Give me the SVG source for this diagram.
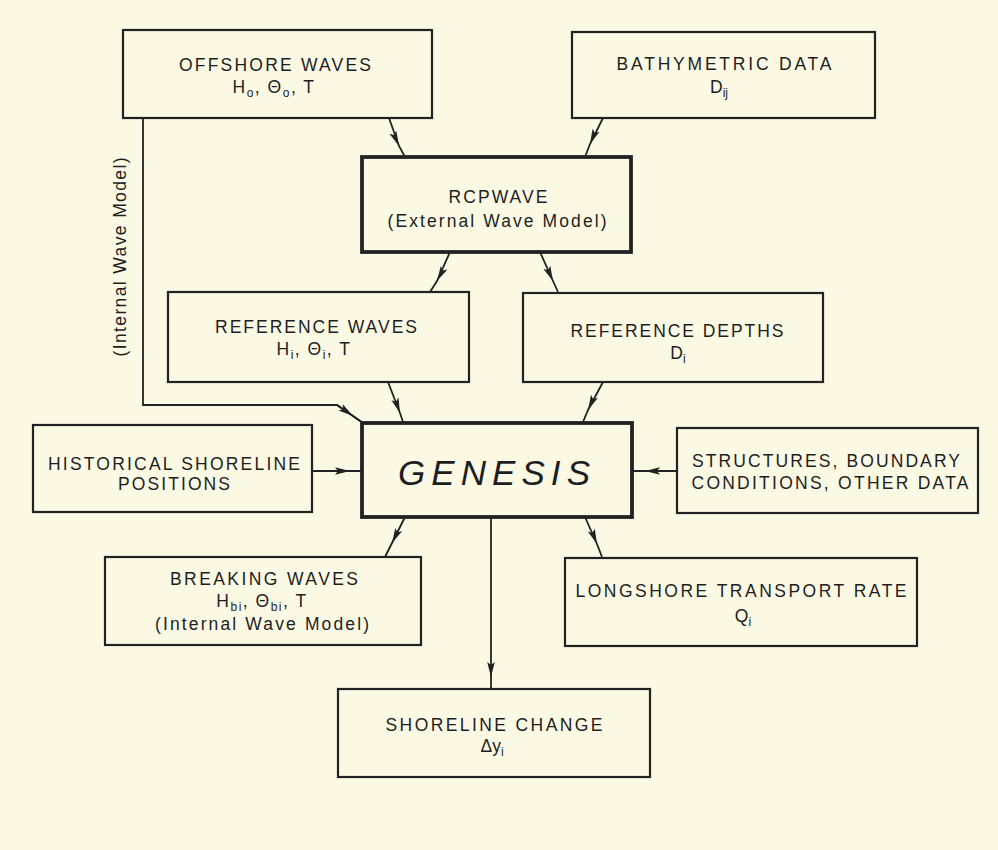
<svg xmlns="http://www.w3.org/2000/svg" width="998" height="850" viewBox="0 0 998 850">
  <style>
    .box { fill: none; stroke: #222; stroke-width: 2.2; }
    .thick { fill: none; stroke: #222; stroke-width: 3.8; }
    .lbl { font-family: "Liberation Sans", Arial, sans-serif; font-size: 17.5px; fill: #1e1e1e; text-anchor: middle; }
    .sym { letter-spacing: 1.5px; }
    .sub { font-size: 12px; }
    .big { font-family: "Liberation Sans", Arial, sans-serif; font-size: 35px; font-style: italic; fill: #1e1e1e; text-anchor: middle; }
    .wire { fill: none; stroke: #222; stroke-width: 1.8; marker-mid: url(#head); }
  </style>
  <defs>
    <marker id="head" markerUnits="userSpaceOnUse" markerWidth="20" markerHeight="12" viewBox="-16 -6 18 12" refX="0" refY="0" orient="auto">
      <path d="M0,0 L-15,-3.8 L-12,0 L-15,3.8 Z" fill="#222"/>
    </marker>
  </defs>

  <rect width="998" height="850" fill="#fbf9e4"/>

  <!-- connectors -->
  <g id="connectors">
    <path class="wire" d="M389,118 L399,146 L405,157"/>
    <path class="wire" d="M603,118 L590,144 L585,157"/>
    <path class="wire" d="M450,252 L437,281 L430,292"/>
    <path class="wire" d="M540,252 L553,281 L558,292"/>
    <path class="wire" d="M143,118 L143,405 L337,405 L353,416 L363,423" style="marker-mid:none"/>
    <path class="wire" d="M337,405 L353,416 L363,423"/>
    <path class="wire" d="M388,382 L400,413 L403,422"/>
    <path class="wire" d="M603,382 L588,410 L583,422"/>
    <path class="wire" d="M312,471 L350,471 L362,471"/>
    <path class="wire" d="M677,471 L645,471 L632,471"/>
    <path class="wire" d="M405,517 L392,543 L385,557"/>
    <path class="wire" d="M585,517 L597,544 L602,557"/>
    <path class="wire" d="M491,517 L491,677 L491,689"/>
    <text class="lbl" transform="translate(126,257) rotate(-90)" textLength="199" lengthAdjust="spacing">(Internal Wave Model)</text>
  </g>

  <g id="offshore">
    <rect class="box" x="123" y="30" width="309" height="88"/>
    <text class="lbl" x="275" y="71" textLength="192" lengthAdjust="spacing">OFFSHORE WAVES</text>
    <text class="lbl sym" x="274" y="93">H<tspan class="sub" dy="4">o</tspan><tspan dy="-4">, Θ</tspan><tspan class="sub" dy="4">o</tspan><tspan dy="-4">, T</tspan></text>
  </g>

  <g id="bathymetric">
    <rect class="box" x="572" y="32" width="303" height="86"/>
    <text class="lbl" x="724" y="70" textLength="215" lengthAdjust="spacing">BATHYMETRIC DATA</text>
    <text class="lbl" x="719" y="93">D<tspan class="sub" dy="4">ij</tspan></text>
  </g>

  <g id="rcpwave">
    <rect class="thick" x="362" y="157" width="269" height="95"/>
    <text class="lbl" x="498" y="203" textLength="99" lengthAdjust="spacing">RCPWAVE</text>
    <text class="lbl" x="497" y="227" textLength="219" lengthAdjust="spacing">(External Wave Model)</text>
  </g>

  <g id="reference-waves">
    <rect class="box" x="168" y="292" width="301" height="90"/>
    <text class="lbl" x="316" y="333" textLength="202" lengthAdjust="spacing">REFERENCE WAVES</text>
    <text class="lbl sym" x="314" y="355">H<tspan class="sub" dy="4">i</tspan><tspan dy="-4">, Θ</tspan><tspan class="sub" dy="4">i</tspan><tspan dy="-4">, T</tspan></text>
  </g>

  <g id="reference-depths">
    <rect class="box" x="523" y="293" width="300" height="89"/>
    <text class="lbl" x="677" y="337" textLength="213" lengthAdjust="spacing">REFERENCE DEPTHS</text>
    <text class="lbl" x="678" y="359">D<tspan class="sub" dy="4">i</tspan></text>
  </g>

  <g id="genesis">
    <rect class="thick" x="362" y="423" width="270" height="94"/>
    <text class="big" x="494" y="485" textLength="192" lengthAdjust="spacing">GENESIS</text>
  </g>

  <g id="historical">
    <rect class="box" x="33" y="425" width="279" height="87"/>
    <text class="lbl" x="174" y="470" textLength="252" lengthAdjust="spacing">HISTORICAL SHORELINE</text>
    <text class="lbl" x="174" y="490" textLength="112" lengthAdjust="spacing">POSITIONS</text>
  </g>

  <g id="structures">
    <rect class="box" x="677" y="428" width="301" height="85"/>
    <text class="lbl" x="826" y="467" textLength="268" lengthAdjust="spacing">STRUCTURES, BOUNDARY</text>
    <text class="lbl" x="830" y="489" textLength="277" lengthAdjust="spacing">CONDITIONS, OTHER DATA</text>
  </g>

  <g id="breaking-waves">
    <rect class="box" x="105" y="557" width="316" height="88"/>
    <text class="lbl" x="264" y="585" textLength="188" lengthAdjust="spacing">BREAKING WAVES</text>
    <text class="lbl sym" x="262" y="607">H<tspan class="sub" dy="4">bi</tspan><tspan dy="-4">, Θ</tspan><tspan class="sub" dy="4">bi</tspan><tspan dy="-4">, T</tspan></text>
    <text class="lbl" x="262" y="630" textLength="214" lengthAdjust="spacing">(Internal Wave Model)</text>
  </g>

  <g id="longshore">
    <rect class="box" x="565" y="558" width="352" height="88"/>
    <text class="lbl" x="741" y="597" textLength="331" lengthAdjust="spacing">LONGSHORE TRANSPORT RATE</text>
    <text class="lbl" x="743" y="622">Q<tspan class="sub" dy="4">i</tspan></text>
  </g>

  <g id="shoreline-change">
    <rect class="box" x="338" y="689" width="312" height="88"/>
    <text class="lbl" x="494" y="731" textLength="217" lengthAdjust="spacing">SHORELINE CHANGE</text>
    <text class="lbl" x="492" y="752">Δy<tspan class="sub" dy="4">i</tspan></text>
  </g>
</svg>
